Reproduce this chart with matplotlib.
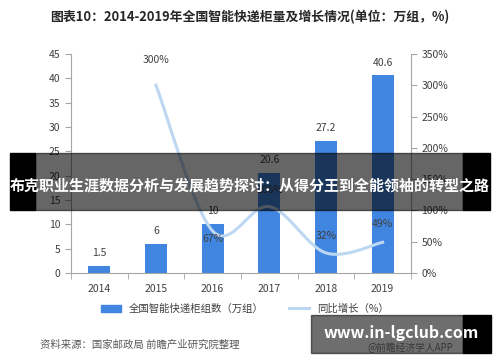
import numpy as np
import matplotlib
matplotlib.use("Agg")
import matplotlib.pyplot as plt
from matplotlib.patches import Rectangle
from matplotlib.lines import Line2D

plt.rcParams['font.family'] = ['Noto Sans CJK SC', 'DejaVu Sans']

# 数据
years = ['2014', '2015', '2016', '2017', '2018', '2019']
lockers = [1.5, 6, 10, 20.6, 27.2, 40.6]
growth_years = ['2015', '2016', '2017', '2018', '2019']
growth = [300, 67, 106, 32, 49]
growth_labels = ['300%', '67%', '106%', '32%', '49%']
left_ticks = [0, 5, 10, 15, 20, 25, 30, 35, 40, 45]
right_ticks = [0, 50, 100, 150, 200, 250, 300, 350]

bar_color = '#4086e0'
line_color = '#bcd7f2'
axis_color = '#a6a6a6'
text_color = '#404040'


def smooth(xs, ys, n=30):
    # Catmull-Rom curve through the points (Excel-like smoothed line)
    pts = np.column_stack([xs, ys]).astype(float)
    p = np.vstack([pts[0], pts, pts[-1]])
    out = []
    for i in range(1, len(p) - 2):
        p0, p1, p2, p3 = p[i - 1], p[i], p[i + 1], p[i + 2]
        t = np.linspace(0, 1, n)[:, None]
        seg = 0.5 * ((2 * p1) + (-p0 + p2) * t + (2 * p0 - 5 * p1 + 4 * p2 - p3) * t ** 2
                     + (-p0 + 3 * p1 - 3 * p2 + p3) * t ** 3)
        out.append(seg)
    out = np.vstack(out)
    return out[:, 0], out[:, 1]


fig = plt.figure(figsize=(5, 3.62), dpi=100)
ax = fig.add_axes([0.142, 0.246, 0.68, 0.605])
ax2 = ax.twinx()

x = np.arange(len(years))
ax.bar(x, lockers, width=0.39, color=bar_color, zorder=2)
for xi, v in zip(x, lockers):
    ax.text(xi, v + 1.6, f'{v:g}', ha='center', va='bottom', fontsize=7.5, color=text_color)

ax.set_xlim(-0.5, len(years) - 0.5)
ax.set_ylim(0, 45)
ax.set_yticks(left_ticks)
ax.set_xticks(x)
ax.set_xticklabels(years)
ax.set_xticks(np.arange(-0.5, len(years)), minor=True)
ax.tick_params(axis='x', which='major', length=0, labelsize=7.5, colors=text_color, pad=8)
ax.tick_params(axis='x', which='minor', length=4, color=axis_color, direction='out')
ax.tick_params(axis='y', length=4, color=axis_color, labelsize=7.5, labelcolor=text_color, direction='out')

gx = np.array([years.index(y) for y in growth_years])
sx, sy = smooth(gx, growth)
ax2.plot(sx, sy, color=line_color, lw=2.2, zorder=3)
label_pos = [(0, 18), (0, -6), (0, 12), (0, 12), (0, 13)]
for xi, v, lab, (dx, dy) in zip(gx, growth, growth_labels, label_pos):
    ax2.annotate(lab, (xi, v), xytext=(dx, dy), textcoords='offset points',
                 ha='center', va='center', fontsize=7.5, color=text_color)
ax2.set_ylim(0, 350)
ax2.set_yticks(right_ticks)
ax2.set_yticklabels([f'{t}%' for t in right_ticks])
ax2.tick_params(axis='y', length=4, color=axis_color, labelsize=7.5, labelcolor=text_color, direction='out')

for a in (ax, ax2):
    a.spines['top'].set_visible(False)
    a.spines['left'].set_color(axis_color)
    a.spines['right'].set_color(axis_color)
    a.spines['bottom'].set_color(axis_color)
ax.spines['right'].set_visible(False)
ax2.spines['left'].set_visible(False)
ax2.spines['bottom'].set_visible(False)

# 标题
fig.text(0.5, 0.953, '图表10：2014-2019年全国智能快递柜量及增长情况(单位：万组，%)',
         ha='center', va='center', fontsize=9.3, fontweight='bold', color='#262626')

# 图例
leg_handles = [Rectangle((0, 0), 1, 1, color=bar_color),
               Line2D([0], [0], color=line_color, lw=2.2)]
fig.legend(leg_handles, ['全国智能快递柜组数（万组）', '同比增长（%）'],
           loc='center', bbox_to_anchor=(0.49, 0.147), ncol=2, frameon=False,
           fontsize=7.5, handlelength=1.9, handleheight=0.7, columnspacing=2.4,
           labelcolor=text_color)

# 资料来源
fig.text(0.08, 0.047, '资料来源：国家邮政局 前瞻产业研究院整理', ha='left', va='center',
         fontsize=7.5, color='#595959')

# 中间横幅（半透明）
fig.patches.append(Rectangle((0.02, 1 - 210 / 362), 0.05, 57 / 362, transform=fig.transFigure,
                             color='black', zorder=10))
fig.patches.append(Rectangle((0.926, 1 - 210 / 362), 0.054, 57 / 362, transform=fig.transFigure,
                             color='black', zorder=10))
fig.patches.append(Rectangle((0.07, 1 - 210 / 362), 0.856, 57 / 362, transform=fig.transFigure,
                             color='black', alpha=0.6, zorder=11))
fig.text(0.5, 1 - 185 / 362, '布克职业生涯数据分析与发展趋势探讨：从得分王到全能领袖的转型之路',
         ha='center', va='center', fontsize=10.8, fontweight='bold', color='white', zorder=12)

# 右下角水印
fig.text(0.82, 1 - 348 / 362, '@前瞻经济学人APP', ha='center', va='center',
         fontsize=7, color='#808080', zorder=9)
fig.patches.append(Rectangle((0.926, 1 - 353 / 362), 0.056, 38 / 362, transform=fig.transFigure,
                             color='black', zorder=10))
fig.patches.append(Rectangle((0.622, 1 - 353 / 362), 0.304, 38 / 362, transform=fig.transFigure,
                             color='black', alpha=0.57, zorder=11))
fig.text(0.803, 1 - 333 / 362, 'www.in-lgclub.com', ha='center', va='center',
         fontsize=11.5, fontweight='bold', color='white', zorder=12)

fig.savefig('out.png', dpi=100)
